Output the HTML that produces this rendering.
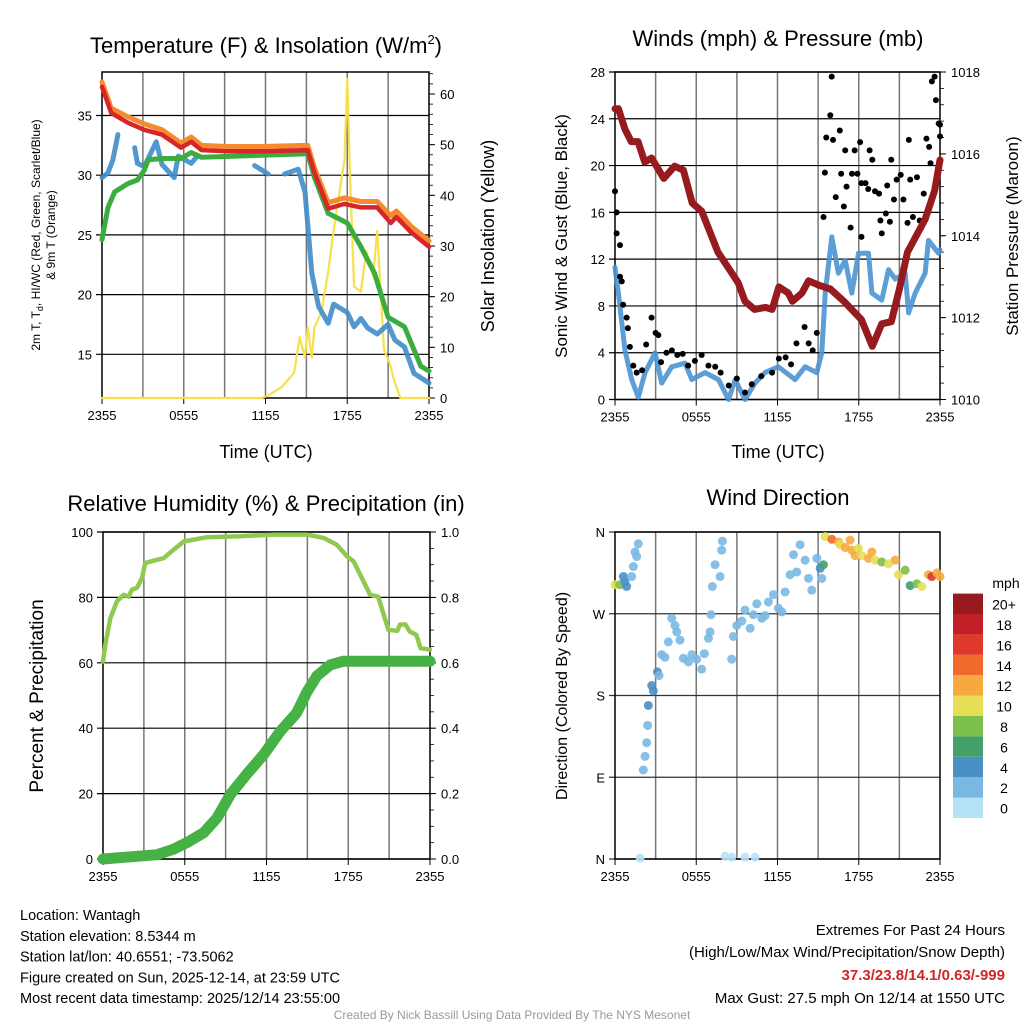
<!DOCTYPE html>
<html><head><meta charset="utf-8"><style>
body{margin:0;background:#fff;}
svg{display:block;font-family:"Liberation Sans",sans-serif;}
</style></head><body>
<svg id="c" width="1024" height="1024" viewBox="0 0 1024 1024"></svg>
<script>
// ---------- Panel 1 data (hours since 2355) ----------
const xTickLabels=["2355","0555","1155","1755","2355"];
const tT=[0,0.68,1.9,3.1,4.4,5.8,6.55,7.3,9.2,11.7,15.1,15.6,16.6,17.8,19.0,20.2,21.2,21.6,22.7,24];
const tempRed=[37.4,35.2,34.4,33.8,33.4,32.3,32.8,32.1,32.0,32.0,32.1,30.2,27.2,27.6,27.3,27.3,26.0,26.5,25.2,24.0];
const tempOrange=[37.8,35.6,34.9,34.3,33.8,32.7,33.2,32.5,32.4,32.4,32.5,30.6,27.7,28.1,27.8,27.8,26.6,27.0,25.7,24.5];
const tG=[0,0.44,0.93,1.9,2.6,3.1,3.4,4.4,5.8,6.55,7.3,15.1,15.6,16.6,18.0,19.0,20.0,21.0,22.2,23.4,24];
const heatIdx=[24.6,27.3,28.6,29.3,29.6,30.4,31.3,31.4,31.4,31.9,31.5,31.8,29.8,26.8,26.0,24.0,21.8,18.1,17.3,14.0,13.6];
const tB=[0,0.44,0.8,1.17,null,2.4,2.6,3.1,3.98,4.4,5.3,5.6,6.55,7.0,null,11.2,12.2,null,13.4,14.4,14.9,15.4,15.9,16.6,17.0,18.0,18.5,19.0,19.5,20.2,21.0,21.5,22.2,22.9,24];
const dewpt=[29.8,30.2,31.3,33.4,null,32.3,31.0,30.7,32.8,30.9,29.8,31.6,31.0,31.6,null,30.8,30.1,null,30.1,30.5,28.6,21.8,19.0,17.6,19.2,18.5,17.3,18.0,17.2,16.7,17.5,16.2,15.6,13.4,12.6];
const tS=[0,11.7,12.2,13.2,14.1,14.5,14.9,15.1,15.4,15.6,16.1,16.6,17.1,17.8,18.0,18.2,18.5,19.0,19.4,19.9,20.2,20.7,21.1,21.5,21.9,24];
const solar=[0,0,0.5,2.2,5,12,8,14,8,14,17,25,35,47,63,44,22,21,29,24,33,9.5,7,3,0,0];
// ---------- Panel 2 data ----------
const tP=[0,0.25,0.74,1.2,1.7,2.2,2.7,3.6,4.4,5.05,5.7,6.4,7.6,8.4,9.1,9.6,10.3,11.1,11.6,12.1,12.8,13.1,13.8,14.3,15.0,15.9,16.9,18.2,19.0,19.7,20.4,21.0,21.6,22.9,23.6,24];
const pressure=[1017.1,1017.1,1016.6,1016.3,1016.3,1015.8,1015.9,1015.4,1015.7,1015.6,1014.8,1014.6,1013.6,1013.2,1012.85,1012.4,1012.2,1012.25,1012.2,1012.75,1012.6,1012.4,1012.6,1012.9,1012.8,1012.7,1012.4,1011.95,1011.3,1011.85,1011.9,1012.7,1013.6,1014.4,1015.1,1015.85];
const tW=[0,0.25,0.74,1.23,1.72,2.22,2.96,3.45,4.19,5.17,5.67,6.65,7.64,8.38,8.87,9.6,10.34,11.08,12.07,13.3,14.04,14.9,15.27,15.52,16.01,16.5,17.0,17.49,17.98,18.72,18.97,19.7,20.2,20.69,21.43,21.68,22.17,22.9,23.15,23.9,24];
const windSpd=[11.3,9.1,4.2,1.7,0.2,2.3,4.0,1.4,2.8,3.1,1.7,2.3,1.7,0,1.7,0,1.4,2.3,2.8,1.7,2.8,2.3,4.0,9.1,13.9,10.8,11.9,9.1,12.5,12.5,9.1,8.5,11.1,10.3,10.8,7.4,9.1,10.8,13.6,12.5,12.8];
const tGust=[0,0.12,0.12,0.37,0.37,0.5,0.6,0.86,0.95,1.1,1.35,1.6,2.0,2.3,2.7,3.0,3.2,3.4,3.8,4.2,4.6,5.0,5.4,5.9,6.4,6.9,7.4,7.8,8.4,9.0,9.6,10.1,10.8,11.6,12.1,12.6,13.0,13.4,14.0,14.3,14.6,14.9,15.4,15.5,15.6,15.9,16.0,16.1,16.3,16.6,16.7,16.9,17.0,17.1,17.4,17.5,17.7,17.9,18.1,18.2,18.2,18.5,18.7,18.8,19.0,19.2,19.5,19.6,19.7,20.0,20.1,20.3,20.4,20.6,20.8,21.1,21.3,21.6,21.7,21.8,22.0,22.3,22.5,22.8,23.0,23.2,23.3,23.4,23.6,23.7,23.9,24.0,24.0];
const gust=[17.8,16.0,14.2,13.2,10.5,10.1,8.1,7.0,6.1,4.5,2.9,2.3,2.5,4.7,7.0,5.7,5.5,3.2,4.0,4.2,3.8,3.9,2.9,3.3,3.8,2.9,2.8,2.3,1.2,1.8,0.6,1.3,2.0,2.3,3.5,3.6,3.0,4.8,6.2,4.8,4.2,5.7,15.6,19.4,22.4,24.3,27.6,22.2,17.3,23.0,19.3,16.5,21.3,18.2,14.7,19.3,21.3,19.3,22.0,13.9,18.5,18.5,18.0,21.3,20.5,17.8,17.6,15.3,14.2,15.9,18.3,15.2,20.5,17.1,18.8,19.2,17.1,15.1,22.2,18.8,15.6,19.0,15.3,17.6,22.3,21.6,20.2,27.2,27.6,25.6,23.6,23.5,22.5];
// ---------- Panel 3 data ----------
const tRH=[0,0.17,0.54,1.03,1.52,1.88,2.13,2.49,2.86,3.1,3.96,4.45,5.18,5.92,7.63,10.07,12.52,14.96,16.19,17.16,17.9,18.39,19.12,19.6,20.2,20.6,20.95,21.6,21.8,22.2,22.5,23.0,23.3,24];
const rh=[60.4,65.5,73.7,78.8,80.8,80.2,82.4,82.9,85.9,90.5,91.5,92.0,94.6,97.1,98.4,98.7,99.2,99.2,98.2,96.1,92.6,91.0,84.9,80.8,80.2,74.7,70.1,69.8,71.7,71.7,69.6,68.5,64.5,64.0];
const tPr=[0,3.96,5.18,6.16,7.38,8.36,9.34,10.56,11.8,13.0,14.2,14.96,15.7,16.7,17.65,24];
const precip=[0,0.013,0.03,0.05,0.08,0.125,0.197,0.26,0.32,0.39,0.446,0.51,0.56,0.594,0.605,0.605];
// ---------- Panel 4 data ----------
const tDir=[0,0.37,0.62,0.74,0.86,1.23,1.35,1.48,1.6,1.72,1.85,2.09,2.22,2.34,2.41,2.46,2.71,2.83,3.13,3.25,3.45,3.69,3.94,4.19,4.43,4.56,4.8,5.05,5.42,5.67,6.03,6.4,6.6,6.9,7.02,7.09,7.19,7.39,7.76,7.88,7.93,8.13,8.62,9.6,10.34,8.62,8.74,8.99,9.36,9.6,9.98,10.22,10.47,10.84,11.08,11.33,11.7,12.07,12.32,12.56,12.93,13.18,13.42,13.67,14.04,14.29,14.53,14.9,15.15,15.27,15.39,15.52,16.01,16.5,16.63,17.0,17.36,17.49,17.73,17.98,18.23,18.72,18.97,19.21,19.7,20.2,20.69,20.94,21.43,21.8,22.29,22.66,23.15,23.4,23.77,24];
const dirDeg=[302,302,311,305,300,311,322,338,333,347,1,98,113,128,147,169,191,185,206,202,225,222,239,265,257,250,241,221,217,225,220,209,226,243,250,269,300,324,311,340,350,3,2,2,2,220,245,257,262,274,254,269,281,265,268,283,291,276,272,294,313,335,316,346,329,309,296,331,320,309,324,355,352,349,346,343,351,340,334,342,334,331,338,329,327,325,329,313,318,301,303,300,313,311,315,311];
const dirSpd=[10,7,4,4,4,1,1,1,1,1,0,2,2,2,2,4,4,4,4,2,2,2,2,2,2,2,2,2,2,2,2,2,2,2,2,2,2,2,1,1,1,0,0,0,0,1,1,2,2,1,1,2,1,2,2,2,2,2,2,2,2,2,1,2,2,2,2,2,4,2,6,10,14,12,10,12,12,12,12,10,10,12,12,10,8,10,12,10,8,6,8,10,12,16,12,12];
const cbLabels=["0","2","4","6","8","10","12","14","16","18","20+"];
const cbColors=["#b5e2f7","#7ab8e4","#4a8fc6","#44a06b","#7cbf4a","#e6df55","#f7a940","#ef6a2c","#e0382b","#c21f29","#961a1e"];

const NS="http://www.w3.org/2000/svg";
const svg=document.getElementById('c');
function mk(tag,attrs,parent,text){const e=document.createElementNS(NS,tag);for(const k in attrs)e.setAttribute(k,attrs[k]);if(text!==undefined)e.textContent=text;(parent||svg).appendChild(e);return e;}
function lin(d0,d1,r0,r1){return v=>r0+(v-d0)*(r1-r0)/(d1-d0);}
function pathFrom(ts,vs,sx,sy){let d="",pen=false;for(let i=0;i<ts.length;i++){if(ts[i]===null||vs[i]===null){pen=false;continue;}d+=(pen?"L":"M")+sx(ts[i]).toFixed(1)+","+sy(vs[i]).toFixed(1);pen=true;}return d;}
function txt(x,y,s,size,anchor,name,extra){const t=mk('text',Object.assign({x:x,y:y,'font-size':size,'text-anchor':anchor||'middle',fill:'#000'},extra||{}),svg,s);return t;}

function frame(P,name){
  const g=mk('g',{});
  const sx=lin(0,24,P.x0,P.x1);
  for(let h=3;h<24;h+=3){const l=mk('line',{x1:sx(h),x2:sx(h),y1:P.y0,y2:P.y1,stroke:'#777','stroke-width':1.5},g);}
  P.ly.forEach((v,i)=>{const y=P.syL(v);const l=mk('line',{x1:P.x0-6,x2:P.x1,y1:y,y2:y,stroke:P.hgrid||'#000','stroke-width':1.2},g);
    txt(P.x0-10,y+5,P.llab[i],13,'end','left-tick-label');});
  if(P.ry){P.ry.forEach((v,i)=>{const y=P.syR(v);mk('line',{x1:P.x1,x2:P.x1+6,y1:y,y2:y,stroke:'#000','stroke-width':1},g);txt(P.x1+11,y+5,P.rlab[i],13,'start','right-tick-label');});
    (P.rminor||[]).forEach(v=>{const y=P.syR(v);mk('line',{x1:P.x1,x2:P.x1+4,y1:y,y2:y,stroke:'#000','stroke-width':0.8},g);});}
  xTickLabels.forEach((s,i)=>{const x=sx(i*6);mk('line',{x1:x,x2:x,y1:P.y1,y2:P.y1+6,stroke:'#000'},g);txt(x,P.y1+22,s,13,'middle','x-tick-label');});
  const r=mk('rect',{x:P.x0,y:P.y0,width:P.x1-P.x0,height:P.y1-P.y0,fill:'none',stroke:'#000','stroke-width':1.5},g);
  return sx;
}
function series(d,color,w,name,op){const p=mk('path',{d:d,fill:'none',stroke:color,'stroke-width':w,'stroke-linejoin':'round','stroke-linecap':'round',opacity:op||1});return p;}

// Panel 1
const P1={x0:102,x1:429,y0:72,y1:398};P1.syL=lin(15,35,354.3,115.5);P1.syR=lin(0,60,398,94);
P1.ly=[15,20,25,30,35];P1.llab=["15","20","25","30","35"];P1.ry=[0,10,20,30,40,50,60];P1.rlab=["0","10","20","30","40","50","60"];
P1.rminor=[];for(let v=2;v<65;v+=2)P1.rminor.push(v);
const sx1=frame(P1,'temperature-panel');
series(pathFrom(tS,solar,sx1,P1.syR),'#f7e04c',2.2,'solar-insolation-line');
series(pathFrom(tB,dewpt,sx1,P1.syL),'#3f8cc9',5,'dewpoint-line',0.9);
series(pathFrom(tG,heatIdx,sx1,P1.syL),'#3bac3e',5,'windchill-line');
series(pathFrom(tT,tempOrange,sx1,P1.syL),'#f58a2e',5,'9m-temp-line');
series(pathFrom(tT,tempRed,sx1,P1.syL),'#d6262a',4.5,'2m-temp-line');
const t1=txt(266,53,"Temperature (F) & Insolation (W/m",22,'middle','temperature-title');mk('tspan',{dy:-9,'font-size':13},t1,"2");mk('tspan',{dy:9},t1,")");
txt(266,458,"Time (UTC)",18,'middle','x-axis-title');
let a=txt(0,0,"2m T, T",12,'middle','left-axis-title',{transform:'translate(40,235) rotate(-90)'});mk('tspan',{dy:3,'font-size':9},a,"d");mk('tspan',{dy:-3},a,", HI/WC (Red, Green, Scarlet/Blue)");
txt(0,0,"& 9m T (Orange)",12,'middle','left-axis-title-line2',{transform:'translate(55,235) rotate(-90)'});
txt(0,0,"Solar Insolation (Yellow)",18,'middle','right-axis-title',{transform:'translate(494,236) rotate(-90)'});

// Panel 2
const P2={x0:615,x1:940,y0:72,y1:399.5};P2.syL=lin(0,28,399.5,72);P2.syR=lin(1010,1018,399.5,72);
P2.ly=[0,4,8,12,16,20,24,28];P2.llab=P2.ly.map(String);P2.ry=[1010,1012,1014,1016,1018];P2.rlab=P2.ry.map(String);
P2.rminor=[];for(let v=1010.4;v<1018;v+=0.4)P2.rminor.push(v);
const sx2=frame(P2,'winds-panel');
series(pathFrom(tW,windSpd,sx2,P2.syL),'#4a94d0',5,'wind-speed-line',0.9);
tGust.forEach((t,i)=>{const c=mk('circle',{cx:sx2(t),cy:P2.syL(gust[i]),r:3,fill:'#000'});});
series(pathFrom(tP,pressure,sx2,P2.syR),'#961a1e',7,'pressure-line');
txt(778,46,"Winds (mph) & Pressure (mb)",22,'middle','winds-title');
txt(778,458,"Time (UTC)",18,'middle','x-axis-title');
txt(0,0,"Sonic Wind & Gust (Blue, Black)",17,'middle','left-axis-title',{transform:'translate(567,236) rotate(-90)'});
txt(0,0,"Station Pressure (Maroon)",17,'middle','right-axis-title',{transform:'translate(1018,236) rotate(-90)'});

// Panel 3
const P3={x0:103,x1:430,y0:532,y1:859};P3.syL=lin(0,100,859,532);P3.syR=lin(0,1,859,532);
P3.ly=[0,20,40,60,80,100];P3.llab=P3.ly.map(String);P3.ry=[0,0.2,0.4,0.6,0.8,1.0];P3.rlab=["0.0","0.2","0.4","0.6","0.8","1.0"];
P3.rminor=[];for(let v=0.05;v<1;v+=0.05)P3.rminor.push(v);
const sx3=frame(P3,'humidity-panel');
series(pathFrom(tRH,rh,sx3,P3.syL),'#8fc94f',4.5,'relative-humidity-line');
series(pathFrom(tPr,precip,sx3,P3.syR),'#46b246',11,'precipitation-line');
txt(266,511,"Relative Humidity (%) & Precipitation (in)",22,'middle','humidity-title');
txt(0,0,"Percent & Precipitation",19,'middle','left-axis-title',{transform:'translate(43,696) rotate(-90)'});

// Panel 4
const P4={x0:615,x1:940,y0:532,y1:859,hgrid:'#333'};P4.syL=lin(0,360,859,532);
P4.ly=[0,90,180,270,360];P4.llab=["N","E","S","W","N"];
const sx4=frame(P4,'wind-direction-panel');
tDir.forEach((t,i)=>{const k=Math.min(10,Math.round(dirSpd[i]/2));const c=mk('circle',{cx:sx4(t),cy:P4.syL(dirDeg[i]),r:4.5,fill:cbColors[k],opacity:0.9});});
txt(778,505,"Wind Direction",22,'middle','wind-direction-title');
txt(0,0,"Direction (Colored By Speed)",16,'middle','left-axis-title',{transform:'translate(567,696) rotate(-90)'});
// colorbar
txt(1006,588,"mph",14,'middle','colorbar-unit');
cbColors.forEach((c,i)=>{const y=818-(i+1)*20.4;const r=mk('rect',{x:953,y:y,width:30,height:20.4,fill:c});txt(1004,y+16,cbLabels[i],14,'middle','colorbar-label');});

// Text block
const L=["Location: Wantagh","Station elevation: 8.5344 m","Station lat/lon: 40.6551; -73.5062","Figure created on Sun, 2025-12-14, at 23:59 UTC","Most recent data timestamp: 2025/12/14 23:55:00"];
L.forEach((s,i)=>txt(20,920+i*20.8,s,14.5,'start','station-info-line'));
txt(1005,935,"Extremes For Past 24 Hours",15,'end','extremes-heading');
txt(1005,957,"(High/Low/Max Wind/Precipitation/Snow Depth)",15,'end','extremes-legend');
txt(1005,980,"37.3/23.8/14.1/0.63/-999",15,'end','extremes-values',{fill:'#d0262a','font-weight':'bold'});
txt(1005,1003,"Max Gust: 27.5 mph On 12/14 at 1550 UTC",15,'end','max-gust');
txt(512,1019,"Created By Nick Bassill Using Data Provided By The NYS Mesonet",12,'middle','credits',{fill:'#999'});
</script>
</body></html>
